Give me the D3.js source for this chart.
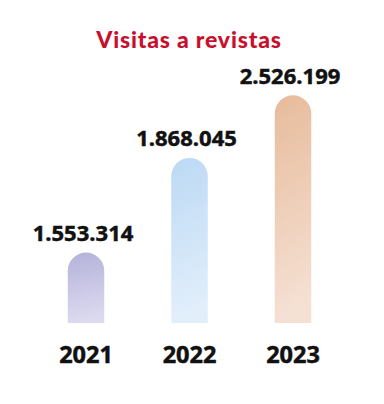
<!DOCTYPE html>
<html>
<head>
<meta charset="utf-8">
<script src="https://cdn.jsdelivr.net/npm/d3@7"></script>
<style>
  html, body { margin: 0; padding: 0; background: #fff; }
  svg { display: block; }
</style>
</head>
<body>
<script>
const title = "Visitas a revistas";
const years = ["2021", "2022", "2023"];
const visits = [1553314, 1868045, 2526199];
const valueLabels = ["1.553.314", "1.868.045", "2.526.199"];
const topColors = ["#b4b2d9", "#bcd9f4", "#e7bb9b"];
const bottomColors = ["#dcdaef", "#e2effb", "#f5e1d4"];

const W = 384, H = 404;
const baseY = 323;

const svg = d3.select("body").append("svg")
  .attr("width", W).attr("height", H);

const x = d3.scalePoint()
  .domain(years)
  .range([86, 293]);

// Decorative (non-zero-based) value scale, piecewise as in the original design
const y = d3.scaleLinear()
  .domain([1500000, 2000000, 2600000])
  .range([baseY - 54.4, baseY - 204.7, baseY - 230.9]);

const defs = svg.append("defs");
years.forEach((yr, i) => {
  const g = defs.append("linearGradient")
    .attr("id", "grad" + i)
    .attr("x1", "0").attr("y1", "0").attr("x2", "0.1").attr("y2", "1");
  g.append("stop").attr("offset", "0%").attr("stop-color", topColors[i]);
  g.append("stop").attr("offset", "100%").attr("stop-color", bottomColors[i]);
});

svg.append("text")
  .attr("x", 189).attr("y", 47.5)
  .attr("text-anchor", "middle")
  .attr("font-family", "Lato, sans-serif")
  .attr("font-weight", 900)
  .attr("font-size", 23)
  .attr("letter-spacing", 0.8)
  .attr("fill", "#c8102e")
  .text(title);

const bw = 36.5;
function barPath(cx, top) {
  const r = bw / 2;
  const l = cx - r, rr = cx + r;
  return `M${l},${baseY} L${l},${top + r} A${r},${r} 0 0 1 ${rr},${top + r} L${rr},${baseY} Z`;
}

const data = years.map((yr, i) => ({ yr, v: visits[i], label: valueLabels[i], i }));

svg.selectAll("path.bar").data(data).enter().append("path")
  .attr("class", "bar")
  .attr("d", d => barPath(x(d.yr), y(d.v)))
  .attr("fill", d => `url(#grad${d.i})`);

svg.selectAll("text.val").data(data).enter().append("text")
  .attr("class", "val")
  .attr("x", d => x(d.yr) - 3)
  .attr("y", d => y(d.v) - 11.5)
  .attr("text-anchor", "middle")
  .attr("font-family", "'Open Sans', sans-serif")
  .attr("font-weight", 700)
  .attr("font-size", 22)
  .attr("fill", "#111")
  .attr("stroke", "#111")
  .attr("stroke-width", 0.5)
  .text(d => d.label);

svg.selectAll("text.yr").data(data).enter().append("text")
  .attr("class", "yr")
  .attr("x", d => x(d.yr))
  .attr("y", 362.5)
  .attr("text-anchor", "middle")
  .attr("font-family", "'Open Sans', sans-serif")
  .attr("font-weight", 700)
  .attr("font-size", 23.5)
  .attr("fill", "#111")
  .attr("stroke", "#111")
  .attr("stroke-width", 0.5)
  .text(d => d.yr);
</script>
</body>
</html>
